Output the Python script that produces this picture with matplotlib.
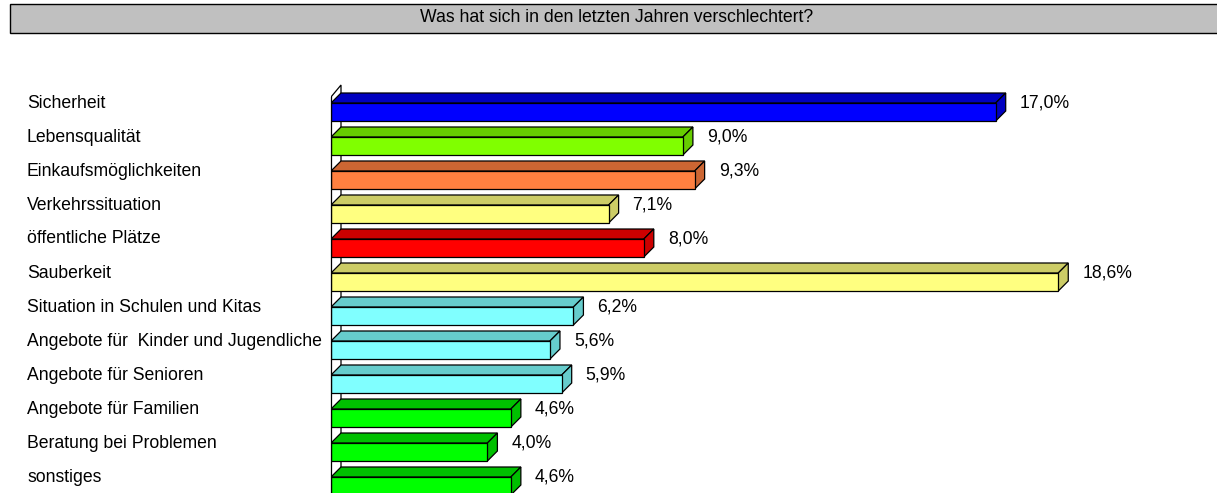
import matplotlib
matplotlib.use("Agg")
import matplotlib.pyplot as plt
from matplotlib.patches import Polygon, Rectangle

plt.rcParams["font.family"] = ["Liberation Sans", "DejaVu Sans"]

# ----------- data -----------
title = "Was hat sich in den letzten Jahren verschlechtert?"
categories = [
    "Sicherheit",
    "Lebensqualität",
    "Einkaufsmöglichkeiten",
    "Verkehrssituation",
    "öffentliche Plätze",
    "Sauberkeit",
    "Situation in Schulen und Kitas",
    "Angebote für  Kinder und Jugendliche",
    "Angebote für Senioren",
    "Angebote für Familien",
    "Beratung bei Problemen",
    "sonstiges",
]
values = [17.0, 9.0, 9.3, 7.1, 8.0, 18.6, 6.2, 5.6, 5.9, 4.6, 4.0, 4.6]
front_colors = ["#0000FF", "#80FF00", "#FF8040", "#FFFF80", "#FF0000", "#FFFF80",
                "#80FFFF", "#80FFFF", "#80FFFF", "#00FF00", "#00FF00", "#00FF00"]
top_colors = ["#0000C0", "#66CC00", "#CC6633", "#CCCC66", "#CC0000", "#CCCC66",
              "#66CCCC", "#66CCCC", "#66CCCC", "#00C000", "#00C000", "#00C000"]
# -------- end of data -----

W, H = 1217, 493
fig = plt.figure(figsize=(W / 100, H / 100), dpi=100)
fs = 12.7

# pixel geometry
x0_px = 331
px_per_pct = 39.1
row_px = 34
row0_px = 112

ax = fig.add_axes([x0_px / W, 0, (W - x0_px) / W, 1])
ax.set_xlim(0, (W - x0_px) / px_per_pct)
ax.set_ylim((H - row0_px) / row_px, -row0_px / row_px)
ax.axis("off")

dx = 10 / px_per_pct
dy = 10 / row_px
bh = 18 / row_px
lw = 0.9

wall_front = -0.5 * bh - 6 / row_px
wall_back = wall_front - 12 / row_px

# back wall line + top of wall
wall = Polygon([(0, 20), (0, wall_front), (dx, wall_back), (dx, 20)], closed=True,
               facecolor="white", edgecolor="black", lw=lw, zorder=0.5)
ax.add_patch(wall)

for i, (v, fc, tc) in enumerate(zip(values, front_colors, top_colors)):
    top = i - bh / 2
    bot = i + bh / 2
    ax.barh(i, v, height=bh, left=0, color=fc, edgecolor="black", lw=lw, zorder=3)
    top_face = Polygon([(0, top), (dx, top - dy), (v + dx, top - dy), (v, top)],
                       closed=True, facecolor=tc, edgecolor="black", lw=lw, zorder=2)
    side_face = Polygon([(v, top), (v + dx, top - dy), (v + dx, bot - dy), (v, bot)],
                        closed=True, facecolor=tc, edgecolor="black", lw=lw, zorder=2)
    ax.add_patch(top_face)
    ax.add_patch(side_face)
    ty = i - 9 / row_px
    ax.text(v + dx + 14 / px_per_pct, ty, f"{v:.1f}%".replace(".", ","),
            ha="left", va="center", fontsize=fs, zorder=5)
    fig.text(27 / W, 1 - (row0_px + i * row_px - 9) / H, categories[i],
             ha="left", va="center", fontsize=fs)

# front wall line
ax.plot([0, 0], [wall_front, 20], color="black", lw=lw, zorder=4, clip_on=False)

# title box
fig.patches.append(Rectangle((10 / W, 1 - 33 / H), (W + 20) / W, 29 / H,
                             transform=fig.transFigure, facecolor="#C0C0C0",
                             edgecolor="black", lw=1.0))
fig.text(617 / W, 1 - 18 / H, title, ha="center", va="center", fontsize=fs)

fig.savefig("out.png", dpi=100)
